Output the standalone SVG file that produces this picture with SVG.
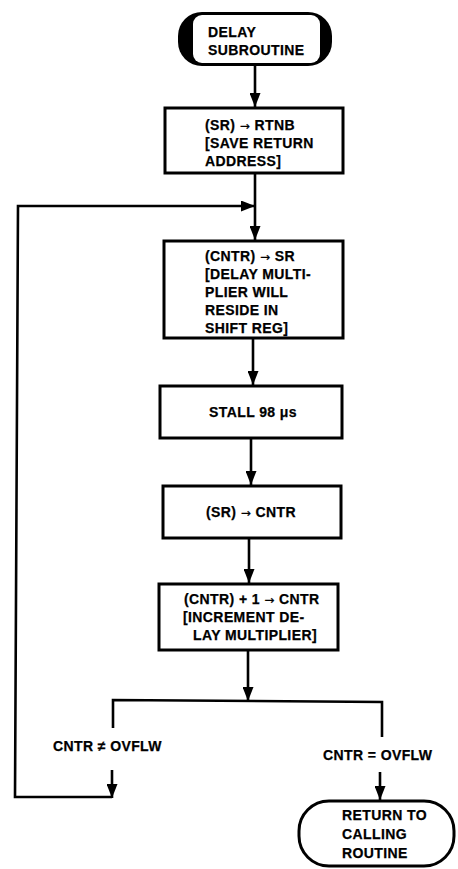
<svg xmlns="http://www.w3.org/2000/svg" width="458" height="869" viewBox="0 0 458 869">
<style>
.box{fill:#fff;stroke:#000;stroke-width:3}
.ln{fill:none;stroke:#000;stroke-width:2.6}
text{font-family:"Liberation Sans",Arial,sans-serif;font-weight:bold;font-size:14px;letter-spacing:0.4px;fill:#000;stroke:#000;stroke-width:0.25}
.arw{font-family:"DejaVu Sans",sans-serif;font-size:12px;font-weight:normal}
</style>
<defs>
<marker id="ah" viewBox="0 0 14 11" refX="14" refY="5.5" markerWidth="14" markerHeight="11" markerUnits="userSpaceOnUse" orient="auto">
<path d="M0,0 L14,5.5 L0,11 Z" fill="#000"/>
</marker>
</defs>
<g id="connectors">
<line class="ln" x1="255" y1="66" x2="255" y2="107" marker-end="url(#ah)"/>
<line class="ln" x1="255" y1="173" x2="255" y2="240" marker-end="url(#ah)"/>
<line class="ln" x1="112" y1="770" x2="112" y2="798" marker-end="url(#ah)"/>
<polyline class="ln" points="112,797 15,797 18,206 255,206" marker-end="url(#ah)"/>
<line class="ln" x1="253" y1="338" x2="253" y2="385" marker-end="url(#ah)"/>
<line class="ln" x1="251" y1="438" x2="251" y2="485" marker-end="url(#ah)"/>
<line class="ln" x1="249" y1="538" x2="249" y2="583" marker-end="url(#ah)"/>
<line class="ln" x1="248" y1="650" x2="248" y2="701" marker-end="url(#ah)"/>
<polyline class="ln" points="113,728 113,700 382,702 382,737"/>
<line class="ln" x1="380" y1="772" x2="380" y2="800" marker-end="url(#ah)"/>
</g>
<g id="start">
<rect x="178" y="12" width="154" height="54" rx="24" fill="#000"/>
<rect x="193" y="15" width="127" height="48" rx="9" fill="#fff"/>
<text x="208" y="37">DELAY</text>
<text x="208" y="55">SUBROUTINE</text>
</g>
<g id="save">
<rect class="box" x="165" y="108" width="178" height="65"/>
<text x="205" y="130">(SR) <tspan class="arw">→</tspan> RTNB</text>
<text x="205" y="148">[SAVE RETURN</text>
<text x="205" y="166">ADDRESS]</text>
</g>
<g id="cntr-sr">
<rect class="box" x="164" y="241" width="179" height="97"/>
<text x="205" y="261">(CNTR) <tspan class="arw">→</tspan> SR</text>
<text x="205" y="279">[DELAY MULTI-</text>
<text x="205" y="297">PLIER WILL</text>
<text x="205" y="315">RESIDE IN</text>
<text x="205" y="333">SHIFT REG]</text>
</g>
<g id="stall">
<rect class="box" x="160" y="386" width="182" height="52"/>
<text x="253" y="417" text-anchor="middle">STALL 98 μs</text>
</g>
<g id="sr-cntr">
<rect class="box" x="163" y="486" width="178" height="52"/>
<text x="251" y="517" text-anchor="middle">(SR) <tspan class="arw">→</tspan> CNTR</text>
</g>
<g id="increment">
<rect class="box" x="159" y="584" width="179" height="66"/>
<text x="184" y="604">(CNTR) + 1 <tspan class="arw">→</tspan> CNTR</text>
<text x="183" y="622">[INCREMENT DE-</text>
<text x="193" y="640">LAY MULTIPLIER]</text>
</g>
<g id="labels">
<text x="53" y="751">CNTR ≠ OVFLW</text>
<text x="323" y="760">CNTR = OVFLW</text>
</g>
<g id="return">
<rect class="box" x="299" y="801" width="155" height="65" rx="30"/>
<text x="342" y="820">RETURN TO</text>
<text x="342" y="839">CALLING</text>
<text x="342" y="858">ROUTINE</text>
</g>
</svg>
